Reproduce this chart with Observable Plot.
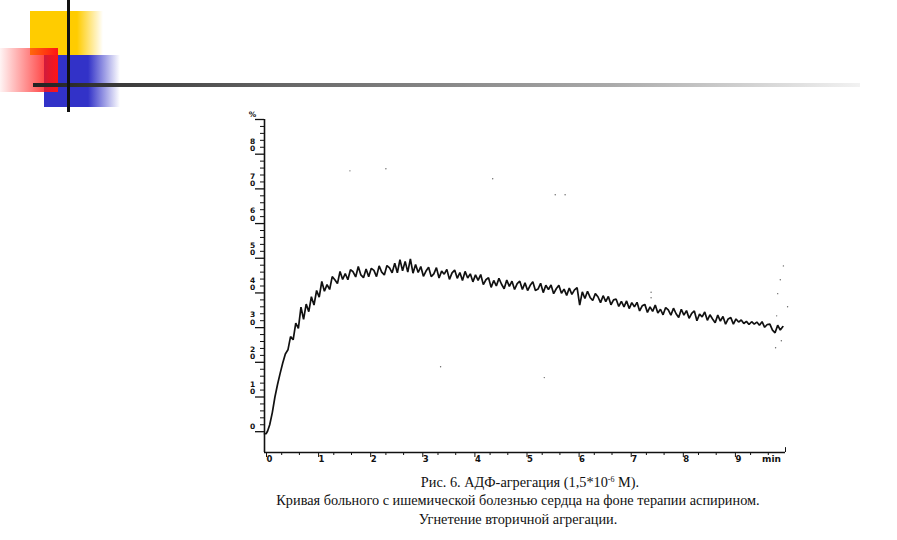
<!DOCTYPE html>
<html>
<head>
<meta charset="utf-8">
<script src="https://cdn.jsdelivr.net/npm/d3@7"></script>
<script src="https://cdn.jsdelivr.net/npm/@observablehq/plot@0.6"></script>
<style>
  html, body { margin: 0; padding: 0; background: #fff; }
  #page { position: relative; width: 897px; height: 540px; overflow: hidden; background: #fff; }
  #chart { position: absolute; left: 0; top: 0; }
  .deco { position: absolute; }
  .cap { position: absolute; width: 640px; text-align: center; font-family: "Liberation Serif", "DejaVu Serif", serif; font-size: 14.3px; line-height: 18px; color: #111; white-space: nowrap; }
  .cap sup { font-size: 8px; line-height: 0; vertical-align: 5px; }
</style>
</head>
<body>
<div id="page">
  <div id="chart"></div>
  <!-- slide decoration -->
  <div class="deco" style="left:30px;top:11px;width:47px;height:44px;background:#ffcc00;"></div>
  <div class="deco" style="left:77px;top:11px;width:26px;height:44px;background:linear-gradient(to right,#ffcc00,rgba(255,204,0,0));"></div>
  <div class="deco" style="left:44px;top:55px;width:44px;height:52px;background:#3232c8;"></div>
  <div class="deco" style="left:88px;top:55px;width:32px;height:52px;background:linear-gradient(to right,#3232c8,rgba(50,50,200,0));"></div>
  <div class="deco" style="left:0px;top:48px;width:58px;height:44px;background:linear-gradient(to right,rgba(255,40,40,0.05),rgba(255,20,20,1));"></div>
  <div class="deco" style="left:33px;top:83px;width:827px;height:4px;background:linear-gradient(to right,#222,#666 30%,#aaa 70%,#f2f2f2);"></div>
  <div class="deco" style="left:67px;top:0px;width:3px;height:112px;background:#111;"></div>
  <!-- caption -->
  <div class="cap" style="left:210px;top:473px;">Рис. 6. АДФ-агрегация (1,5*10<sup>-6</sup> М).</div>
  <div class="cap" style="left:198px;top:491px;">Кривая больного с ишемической болезнью сердца на фоне терапии аспирином.</div>
  <div class="cap" style="left:198px;top:510px;">Угнетение вторичной агрегации.</div>
</div>
<script>
// ---- data ----
const minutes = [
  0, 0.03, 0.06, 0.1, 0.15, 0.2, 0.25, 0.3, 0.35, 0.4,
  0.45, 0.5, 0.55, 0.6, 0.65, 0.7, 0.75, 0.8, 0.85, 0.9, 0.95,
  1, 1.05, 1.1, 1.15, 1.2, 1.25, 1.3, 1.35, 1.4, 1.45, 1.5, 1.55, 1.6, 1.65, 1.7, 1.75, 1.8, 1.85, 1.9, 1.95,
  2, 2.05, 2.1, 2.15, 2.2, 2.25, 2.3, 2.35, 2.4, 2.45, 2.5, 2.55, 2.6, 2.65, 2.7, 2.75, 2.8, 2.85, 2.9, 2.95,
  3, 3.05, 3.1, 3.15, 3.2, 3.25, 3.3, 3.35, 3.4, 3.45, 3.5, 3.55, 3.6, 3.65, 3.7, 3.75, 3.8, 3.85, 3.9, 3.95,
  4, 4.05, 4.1, 4.15, 4.2, 4.25, 4.3, 4.35, 4.4, 4.45, 4.5, 4.55, 4.6, 4.65, 4.7, 4.75, 4.8, 4.85, 4.9, 4.95,
  5, 5.05, 5.1, 5.15, 5.2, 5.25, 5.3, 5.35, 5.4, 5.45, 5.5, 5.55, 5.6, 5.65, 5.7, 5.75, 5.8, 5.85, 5.9, 5.95,
  6, 6.05, 6.1, 6.15, 6.2, 6.25, 6.3, 6.35, 6.4, 6.45, 6.5, 6.55, 6.6, 6.65, 6.7, 6.75, 6.8, 6.85, 6.9, 6.95,
  7, 7.05, 7.1, 7.15, 7.2, 7.25, 7.3, 7.35, 7.4, 7.45, 7.5, 7.55, 7.6, 7.65, 7.7, 7.75, 7.8, 7.85, 7.9, 7.95,
  8, 8.05, 8.1, 8.15, 8.2, 8.25, 8.3, 8.35, 8.4, 8.45, 8.5, 8.55, 8.6, 8.65, 8.7, 8.75, 8.8, 8.85, 8.9, 8.95,
  9, 9.05, 9.1, 9.15, 9.2, 9.25, 9.3, 9.35, 9.4, 9.45, 9.5, 9.55, 9.6, 9.65, 9.7, 9.75, 9.8, 9.85, 9.9, 9.95
];
const aggregation = [
  -0.6, -0.6, 0.2, 2.0, 5.5, 10.0, 13.6, 16.8, 19.8, 22.4,
  23.6, 27.4, 26.5, 31.3, 29.8, 35.9, 32.4, 36.8, 34.6, 38.9, 36.5,
  40.7, 38.8, 43.3, 40.5, 42.4, 41.0, 44.7, 43.8, 42.7, 46.2, 43.9, 45.6, 43.8, 46.7, 46.1, 44.6, 47.6, 45.2, 44.4, 46.9,
  44.7, 47.1, 46.5, 44.7, 47.8, 46.0, 45.2, 47.9, 47.2, 45.8, 48.6, 45.8, 49.6, 46.4, 49.1, 46.0, 49.8, 45.7, 48.2, 45.9,
  47.6, 44.8, 46.3, 47.4, 44.7, 45.5, 47.3, 44.3, 46.3, 45.4, 46.8, 43.9, 45.8, 46.6, 44.2, 45.9, 43.6, 46.2, 44.3, 45.5,
  43.2, 45.2, 43.6, 45.3, 42.4, 43.8, 44.4, 41.6, 43.6, 42.0, 44.2, 42.5, 41.2, 43.7, 41.9, 43.4, 41.0, 42.7, 43.4, 41.0,
  42.9, 40.7, 42.2, 43.2, 40.7, 41.1, 42.8, 40.1, 42.2, 41.0, 42.3, 39.8, 41.2, 42.2, 39.9, 41.1, 39.3, 41.4, 39.6, 40.9,
  41.5, 36.5, 40.3, 38.4, 40.5, 38.7, 37.8, 39.8, 38.9, 37.2, 39.2, 37.5, 39.0, 36.6, 38.0, 38.2, 36.1, 37.6, 36.0, 37.7,
  35.5, 37.2, 36.0, 37.3, 34.8, 36.3, 36.7, 34.4, 36.0, 34.7, 36.5, 34.2, 35.3, 33.7, 35.8, 35.1, 33.6, 35.6, 34.0, 32.9,
  35.3, 33.6, 34.9, 32.7, 34.1, 34.8, 32.0, 33.9, 33.1, 34.5, 32.1, 33.7, 32.5, 31.4, 33.6, 31.9, 33.2, 31.0, 32.5, 32.9,
  31.0, 32.5, 31.6, 32.2, 31.2, 31.8, 30.9, 31.7, 31.0, 31.6, 30.7, 31.7, 30.1, 30.9, 31.0, 29.3, 28.5, 30.7, 29.3, 30.3
];
// x-axis tick values / labels (minutes)
const xMajorTicks = [0, 1, 2, 3, 4, 5, 6, 7, 8, 9];
const xMinorTicks = [0.33, 0.67, 1.33, 1.67, 2.33, 2.67, 3.33, 3.67, 4.33, 4.67, 5.33, 5.67, 6.33, 6.67, 7.33, 7.67, 8.33, 8.67, 9.33, 9.67];
const xUnit = ["min"];
const xUnitAt = [9.55];
// y-axis tick values / labels (%)
const yMajorTicks = [0, 10, 20, 30, 40, 50, 60, 70, 80, 90];
const yMinorTicks = [2, 4, 6, 8, 12, 14, 16, 18, 22, 24, 26, 28, 32, 34, 36, 38, 42, 44, 46, 48, 52, 54, 56, 58, 62, 64, 66, 68, 72, 74, 76, 78, 82, 84, 86, 88];
const yTwoLineValues = [10, 20, 30, 40, 50, 60, 70, 80];
const yTwoLineLabels = ["1\n0", "2\n0", "3\n0", "4\n0", "5\n0", "6\n0", "7\n0", "8\n0"];
const ySingleValues = [0, 90];
const ySingleLabels = ["0", "%"];
// stray scanner specks
const speckMinutes = [1.64, 2.33, 4.38, 5.58, 5.77, 5.37, 3.38, 7.42, 7.42, 9.96, 9.9, 9.85, 10.04, 9.83, 9.92, 9.81];
const speckPercent = [75.2, 75.8, 72.9, 68.3, 68.3, 15.6, 18.7, 38.6, 40.2, 47.8, 43.8, 39.8, 36, 33.4, 26.2, 24.2];

const trace = minutes.map((t, i) => ({t, v: aggregation[i]}));
const specks = speckMinutes.map((t, i) => ({t, v: speckPercent[i]}));
const yTwo = yTwoLineValues.map((v, i) => ({v, s: yTwoLineLabels[i]}));
const ySingle = ySingleValues.map((v, i) => ({v, s: ySingleLabels[i]}));
const unit = xUnitAt.map((t, i) => ({t, s: xUnit[i]}));

const tickFont = "DejaVu Sans, sans-serif";

const chart = Plot.plot({
  width: 897,
  height: 540,
  marginLeft: 264,
  marginRight: 112,
  marginTop: 119,
  marginBottom: 88,
  style: {background: "transparent", overflow: "visible", fontFamily: tickFont},
  x: {domain: [0, 10]},
  y: {domain: [-6, 90]},
  marks: [
    Plot.axisY({ticks: yMinorTicks, tickSize: 4, tickFormat: () => "", label: null, stroke: "#111", strokeWidth: 1}),
    Plot.axisY({ticks: yMajorTicks, tickSize: 9, tickFormat: () => "", label: null, stroke: "#111", strokeWidth: 1.3}),
    Plot.text(yTwo, {x: 0, y: "v", text: "s", dx: -12, dy: -9, fontSize: 7.5, fontWeight: "bold", lineHeight: 1.0, textAnchor: "middle", fill: "#111"}),
    Plot.text(ySingle, {x: 0, y: "v", text: "s", dx: -12, dy: -5, fontSize: 7.5, fontWeight: "bold", textAnchor: "middle", fill: "#111"}),
    Plot.axisX({ticks: xMinorTicks, tickSize: 3, tickFormat: () => "", label: null, stroke: "#111"}),
    Plot.axisX({ticks: xMajorTicks, tickSize: 5, tickPadding: -2, tickFormat: d => String(d), textAnchor: "start", dx: 2, fontSize: 8.5, fontWeight: "bold", label: null, stroke: "#111", fill: "#111"}),
    Plot.text(unit, {x: "t", y: -6, text: "s", dy: 7, fontSize: 9, fontWeight: "bold", textAnchor: "start", fill: "#111"}),
    Plot.ruleX([0], {y1: -6, y2: 90, stroke: "#111", strokeWidth: 1.6}),
    Plot.ruleY([-6], {x1: 0, x2: 10, stroke: "#111", strokeWidth: 1.4}),
    Plot.ruleX([10], {y1: -6, y2: -4.6, stroke: "#111", strokeWidth: 1}),
    Plot.dot(specks, {x: "t", y: "v", r: 0.7, fill: "#666", stroke: "none"}),
    Plot.line(trace, {x: "t", y: "v", stroke: "#111", strokeWidth: 1.7, strokeLinejoin: "miter"})
  ]
});
document.getElementById("chart").appendChild(chart);
</script>
</body>
</html>
